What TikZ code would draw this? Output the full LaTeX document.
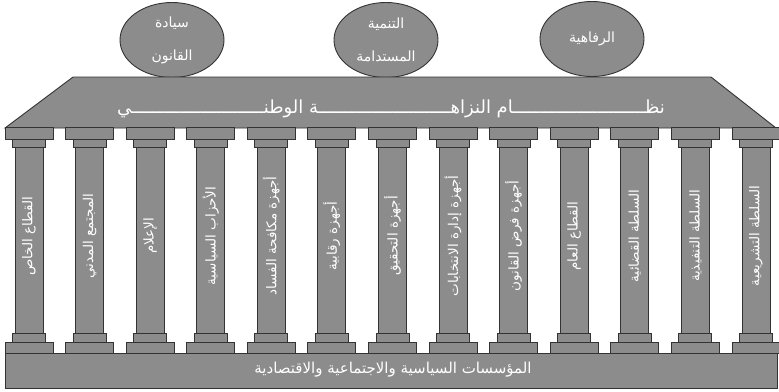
\documentclass[tikz,border=0pt]{standalone}
\usepackage{fontspec}
\usetikzlibrary{shapes.geometric}
\newfontfamily\arabicfont[Script=Arabic]{DejaVu Sans}
\TeXXeTstate=1
\newcommand{\artext}[1]{{\arabicfont\beginR #1\endR}}
\definecolor{stonegray}{HTML}{8C8C8C}
\definecolor{stoneedge}{HTML}{333333}

\begin{document}
\begin{tikzpicture}[x=1pt,y=-1pt,
  stone/.style={fill=stonegray,draw=stoneedge,line width=0.9pt},
  dome/.style={stone,ellipse,minimum width=104pt,minimum height=75pt,inner sep=0pt,
    align=center,text=white,font=\fontsize{14}{33}\selectfont},
  pillartext/.style={rotate=90,text=white,inner sep=0pt,font=\fontsize{13.5}{15}\selectfont},
  bandtext/.style={text=white,inner sep=0pt}]
  \useasboundingbox (0,0) rectangle (779,391);

  % top values
  \node[dome] (law) at (172,40) {\artext{سيادة}\\\artext{القانون}};
  \node[dome] (growth) at (386,40) {\artext{التنمية}\\\artext{المستدامة}};
  \node[dome] (welfare) at (592,39) {\artext{الرفاهية}};

  % roof
  \filldraw[stone] (5,128) -- (73,77) -- (711,77) -- (776,128) -- cycle;
  \node[bandtext,font=\fontsize{18}{20}\selectfont] (roof) at (391,109)
    {\artext{نظـــــــــــــــــــــــــام النزاهـــــــــــــــــــــــــة الوطنـــــــــــــــــــــــــي}};

  % base
  \filldraw[stone] (5,353) rectangle (777,388);
  \node[bandtext,font=\fontsize{15}{17}\selectfont] (base) at (393,370)
    {\artext{المؤسسات السياسية والاجتماعية والاقتصادية}};

  % pillars
  \foreach \name [count=\i from 0] in {القطاع الخاص,المجتمع المدني,الإعلام,الأحزاب السياسية,أجهزة مكافحة الفساد,أجهزة رقابية,أجهزة التحقيق,أجهزة إدارة الانتخابات,أجهزة فرض القانون,القطاع العام,السلطة القضائية,السلطة التنفيذية,السلطة التشريعية}{
    \pgfmathsetmacro\cx{29+60.58*\i}
    \filldraw[stone] (\cx-24,127) rectangle (\cx+24,139);
    \filldraw[stone] (\cx-16.5,139) rectangle (\cx+16.5,147);
    \filldraw[stone] (\cx-14,147) rectangle (\cx+14,333);
    \filldraw[stone] (\cx-16.5,333) rectangle (\cx+16.5,342);
    \filldraw[stone] (\cx-24,342) rectangle (\cx+24,353);
    \node[pillartext] (p\i) at (\cx,236) {\artext{\name}};
  }
\end{tikzpicture}
\end{document}
